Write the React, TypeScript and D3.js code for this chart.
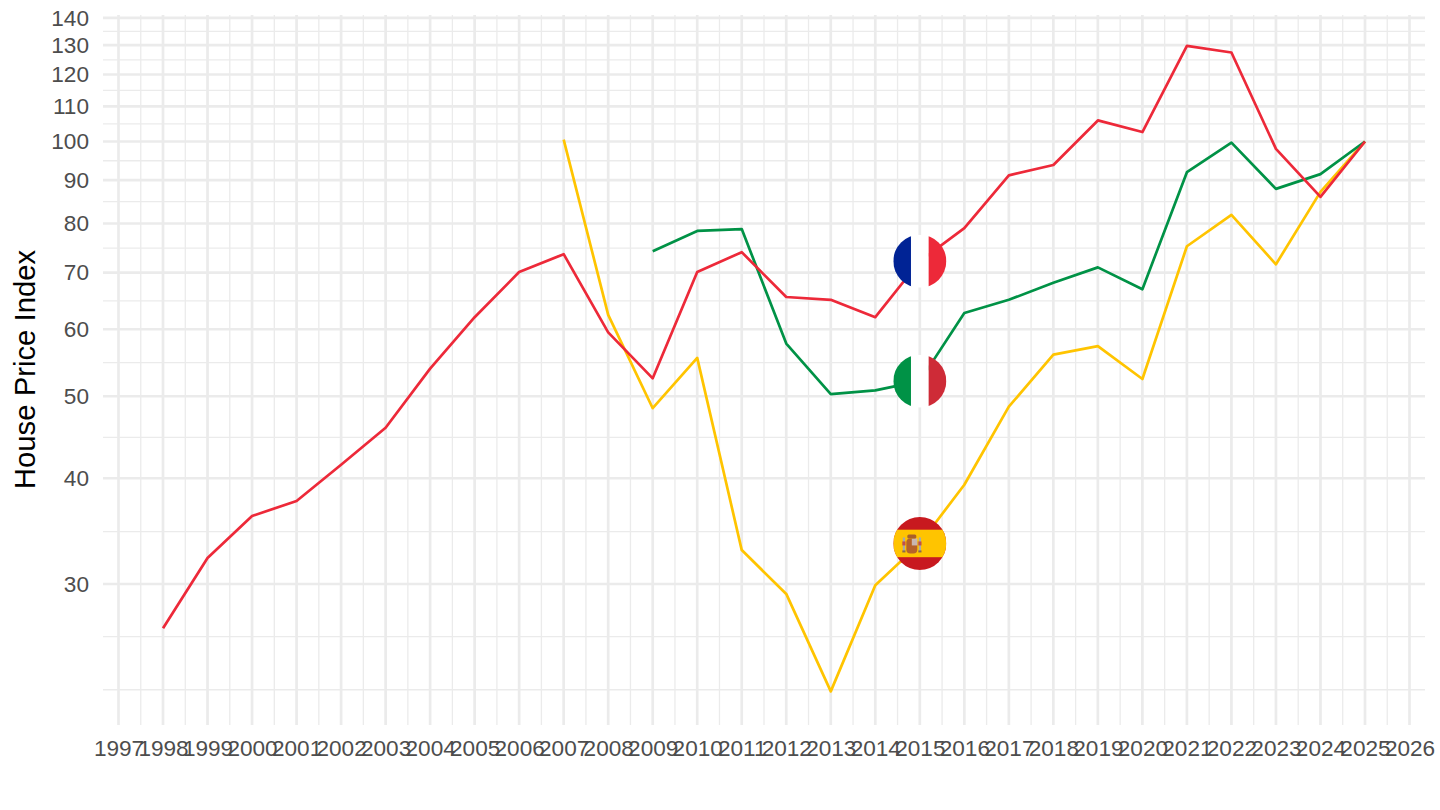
import React, { useEffect, useRef } from 'react';
import * as d3 from 'd3';

const years = d3.range(1997, 2027);

const franceYears = d3.range(1998, 2026);
const franceValues = [26.6, 32.2, 36.1, 37.6, 41.5, 45.9, 53.9, 62.0, 70.1, 73.6, 59.5, 52.5, 70.1, 74.0, 65.5, 65.0, 62.0, 72.2, 79.0, 91.2, 93.8, 105.9, 102.6, 129.7, 127.4, 98.0, 86.0, 100];

const italyYears = d3.range(2009, 2026);
const italyValues = [74.2, 78.4, 78.8, 57.7, 50.3, 50.8, 52.1, 62.7, 65.0, 68.1, 71.0, 66.9, 92.0, 99.7, 87.9, 91.5, 100];

const spainYears = d3.range(2007, 2026);
const spainValues = [100.5, 62.4, 48.4, 55.5, 32.9, 29.2, 22.4, 29.9, 33.5, 39.3, 48.6, 56.0, 57.3, 52.4, 75.2, 81.9, 71.6, 87.2, 100];

const yTicks = [30, 40, 50, 60, 70, 80, 90, 100, 110, 120, 130, 140];
const yMinor = [22.5, 26, 34.6, 44.7, 54.8, 64.8, 74.8, 84.9, 94.9, 104.9, 114.9, 124.9, 134.9];

const flagYear = 2015;

const App = () => {
  const svgRef: any = useRef();

  useEffect(() => {
    const width = 1440;
    const height = 810;
    const left = 103;
    const right = 1425;
    const top = 15;
    const bottom = 725;
    const font = '"Liberation Sans", Arial, sans-serif';

    const x = d3.scaleLinear().domain([1997, 2026]).range([118.5, 1409.5]);
    const y = d3.scaleLog().domain([30, 100]).range([584, 141.5]);

    const svg = d3.select(svgRef.current)
      .attr('width', width)
      .attr('height', height)
      .style('position', 'absolute')
      .style('left', 0)
      .style('top', 0);
    svg.selectAll('*').remove();

    // minor grid first, major over it
    const grid = svg.append('g').attr('stroke', '#ebebeb').attr('fill', 'none');
    grid.selectAll('line.hminor').data(yMinor).join('line')
      .attr('class', 'hminor')
      .attr('x1', left).attr('x2', right)
      .attr('y1', d => y(d)).attr('y2', d => y(d))
      .attr('stroke-width', 1.3);
    grid.selectAll('line.vminor').data(d3.pairs(years)).join('line')
      .attr('class', 'vminor')
      .attr('x1', d => x((d[0] + d[1]) / 2)).attr('x2', d => x((d[0] + d[1]) / 2))
      .attr('y1', top).attr('y2', bottom)
      .attr('stroke-width', 1.3);
    grid.selectAll('line.hmajor').data(yTicks).join('line')
      .attr('class', 'hmajor')
      .attr('x1', left).attr('x2', right)
      .attr('y1', d => y(d)).attr('y2', d => y(d))
      .attr('stroke-width', 2.7);
    grid.selectAll('line.vmajor').data(years).join('line')
      .attr('class', 'vmajor')
      .attr('x1', d => x(d)).attr('x2', d => x(d))
      .attr('y1', top).attr('y2', bottom)
      .attr('stroke-width', 2.7);

    // axes, text only
    const yAxis = svg.append('g')
      .attr('transform', `translate(${left}, 0)`)
      .call(d3.axisLeft(y).tickValues(yTicks).tickFormat((d: any) => `${d}`).tickSize(0).tickPadding(14));
    const xAxis = svg.append('g')
      .attr('transform', `translate(0, ${bottom})`)
      .call(d3.axisBottom(x).tickValues(years).tickFormat((d: any) => `${d}`).tickSize(0).tickPadding(15));
    [yAxis, xAxis].forEach(a => {
      a.select('.domain').remove();
      a.selectAll('text')
        .attr('font-family', font)
        .attr('font-size', 22.6)
        .attr('fill', '#4d4d4d');
    });

    svg.append('text')
      .attr('transform', `translate(35, 369.5) rotate(-90)`)
      .attr('text-anchor', 'middle')
      .attr('font-family', font)
      .attr('font-size', 29.3)
      .attr('fill', '#000')
      .text('House Price Index');

    // series
    const line = d3.line<[number, number]>().x(d => x(d[0])).y(d => y(d[1]));
    const drawSeries = (ys: number[], vs: number[], color: string) => {
      svg.append('path')
        .attr('d', line(ys.map((yr, i) => [yr, vs[i]] as [number, number])))
        .attr('fill', 'none')
        .attr('stroke', color)
        .attr('stroke-width', 2.7)
        .attr('stroke-linejoin', 'round');
    };
    drawSeries(spainYears, spainValues, '#ffc400');
    drawSeries(italyYears, italyValues, '#009246');
    drawSeries(franceYears, franceValues, '#ed2939');

    // flags sit on the 2015 points
    const r = 26.5;
    const fx = x(flagYear);
    const defs = svg.append('defs');
    const flag = (id: string, cy: number) => {
      defs.append('clipPath').attr('id', id)
        .append('circle').attr('cx', fx).attr('cy', cy).attr('r', r);
      return svg.append('g').attr('clip-path', `url(#${id})`);
    };
    const vertical = (g: any, cy: number, cols: string[]) => {
      cols.forEach((c, i) => {
        g.append('rect')
          .attr('x', fx - r + (i * 2 * r) / 3)
          .attr('y', cy - r)
          .attr('width', (2 * r) / 3 + 0.2)
          .attr('height', 2 * r)
          .attr('fill', c);
      });
    };

    const frY = y(franceValues[franceYears.indexOf(flagYear)]);
    vertical(flag('flag-fr', frY), frY, ['#002395', '#ffffff', '#ed2939']);

    const itY = y(italyValues[italyYears.indexOf(flagYear)]);
    vertical(flag('flag-it', itY), itY, ['#009246', '#ffffff', '#ce2b37']);

    const esY = y(spainValues[spainYears.indexOf(flagYear)]);
    const es = flag('flag-es', esY);
    es.append('rect').attr('x', fx - r).attr('y', esY - r).attr('width', 2 * r).attr('height', 2 * r).attr('fill', '#c8191f');
    es.append('rect').attr('x', fx - r).attr('y', esY - r / 2 - 0.5).attr('width', 2 * r).attr('height', r + 1).attr('fill', '#ffc400');
    // little coat of arms
    const crest = es.append('g').attr('transform', `translate(${fx - 8}, ${esY})`);
    crest.append('rect').attr('x', -5.5).attr('y', -5).attr('width', 11).attr('height', 15).attr('rx', 4).attr('fill', '#b5622a');
    crest.append('rect').attr('x', 0).attr('y', -5).attr('width', 5.5).attr('height', 7).attr('fill', '#c9b6b0');
    crest.append('rect').attr('x', -4.5).attr('y', -9).attr('width', 9).attr('height', 4).attr('rx', 1.5).attr('fill', '#a8602a');
    [-9, 7].forEach(dx => {
      crest.append('rect').attr('x', dx).attr('y', -6).attr('width', 2.2).attr('height', 14).attr('fill', '#a9a9a9');
      crest.append('rect').attr('x', dx - 0.5).attr('y', -2).attr('width', 3.2).attr('height', 4).attr('fill', '#c0504d');
      crest.append('rect').attr('x', dx - 0.5).attr('y', 7).attr('width', 3.2).attr('height', 2).attr('fill', '#8a6a4a');
    });
  }, []);

  return <svg ref={svgRef}></svg>;
};

export default App;
